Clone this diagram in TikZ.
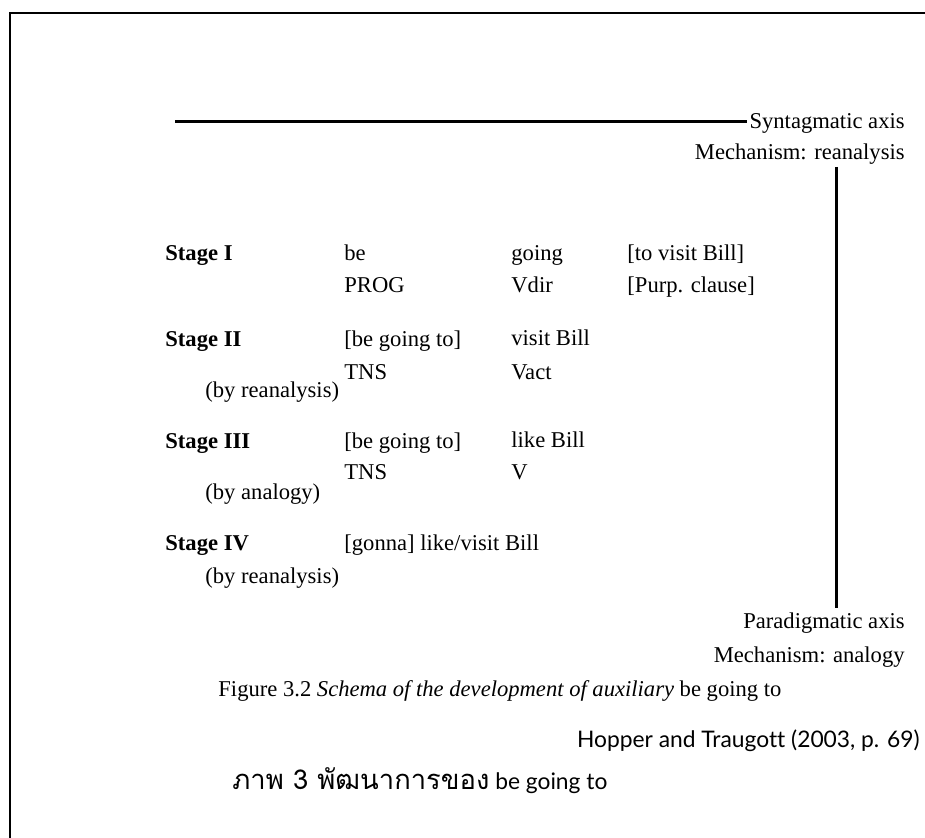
\documentclass[tikz,border=0pt]{standalone}
\usepackage{fontspec}
\setmainfont{Liberation Serif}
\newfontfamily\thaifont[Script=Thai, Scale=1.2]{Loma}
\newfontfamily\srcfont[Ligatures=NoCommon]{Lato}
\tikzset{
  basic/.style     = {inner sep=0pt, anchor=base west, font=\fontsize{11.3}{13}\selectfont},
  stage/.style     = {basic, font=\fontsize{11.3}{13}\selectfont\bfseries},
  axislabel/.style = {basic, anchor=base east},
  axis/.style      = {line width=1.5pt},
  source/.style    = {inner sep=0pt, anchor=base west, font=\srcfont\fontsize{11.4}{13}\selectfont}
}

\begin{document}
\begin{tikzpicture}[x=0.5pt, y=-0.5pt]

\useasboundingbox (0,0) rectangle (925,838);

% marco
\draw[line width=1pt] (10,838) -- (10,13) -- (925,13);

% ejes
\node[axislabel] (synt)   at (905,129) {Syntagmatic axis};
\node[axislabel] (mreana) at (905,160) {Mechanism: reanalysis};
\node[axislabel] (parad)  at (905,628) {Paradigmatic axis};
\node[axislabel] (manal)  at (905,662) {Mechanism: analogy};

\coordinate (hstart) at (175,122);
\coordinate (vtop)   at (836,167);
\coordinate (vbot)   at (836,608);
\draw[axis] (hstart) -- ([xshift=-1pt]hstart -| synt.west);
\draw[axis] (vtop) -- (vbot);

% etapas
\begin{scope}[every node/.style={stage}]
\node (s1) at (165,261) {Stage I};
\node (s2) at (165,347) {Stage II};
\node (s3) at (165,449) {Stage III};
\node (s4) at (165,551) {Stage IV};
\end{scope}

\begin{scope}[every node/.style={basic}]
\node (s2n) at (205,398) {(by reanalysis)};
\node (s3n) at (205,500) {(by analogy)};
\node (s4n) at (205,583) {(by reanalysis)};

% Stage I
\node (s1a) at (344,261) {be};
\node (s1b) at (511,261) {going};
\node (s1c) at (627,261) {[to visit Bill]};
\node (s1d) at (344,293) {PROG};
\node (s1e) at (511,293) {Vdir};
\node (s1f) at (627,293) {[Purp. clause]};

% Stage II
\node (s2a) at (344,347) {[be going to]};
\node (s2b) at (511,346) {visit Bill};
\node (s2d) at (344,380) {TNS};
\node (s2e) at (511,380) {Vact};

% Stage III
\node (s3a) at (344,449) {[be going to]};
\node (s3b) at (511,448) {like Bill};
\node (s3d) at (344,480) {TNS};
\node (s3e) at (511,480) {V};

% Stage IV
\node (s4a) at (344,551) {[gonna] like/visit Bill};

% pie de figura
\node (cap) at (218,696) {Figure 3.2 \textit{Schema of the development of auxiliary} be going to};
\end{scope}

% fuente
\node[source, anchor=base east] (src) at (920,747) {Hopper and Traugott (2003, p. 69)};
\node[source] (thai) at (232,789) {{\thaifont ภาพ 3 พัฒนาการของ} be going to};

\end{tikzpicture}
\end{document}
